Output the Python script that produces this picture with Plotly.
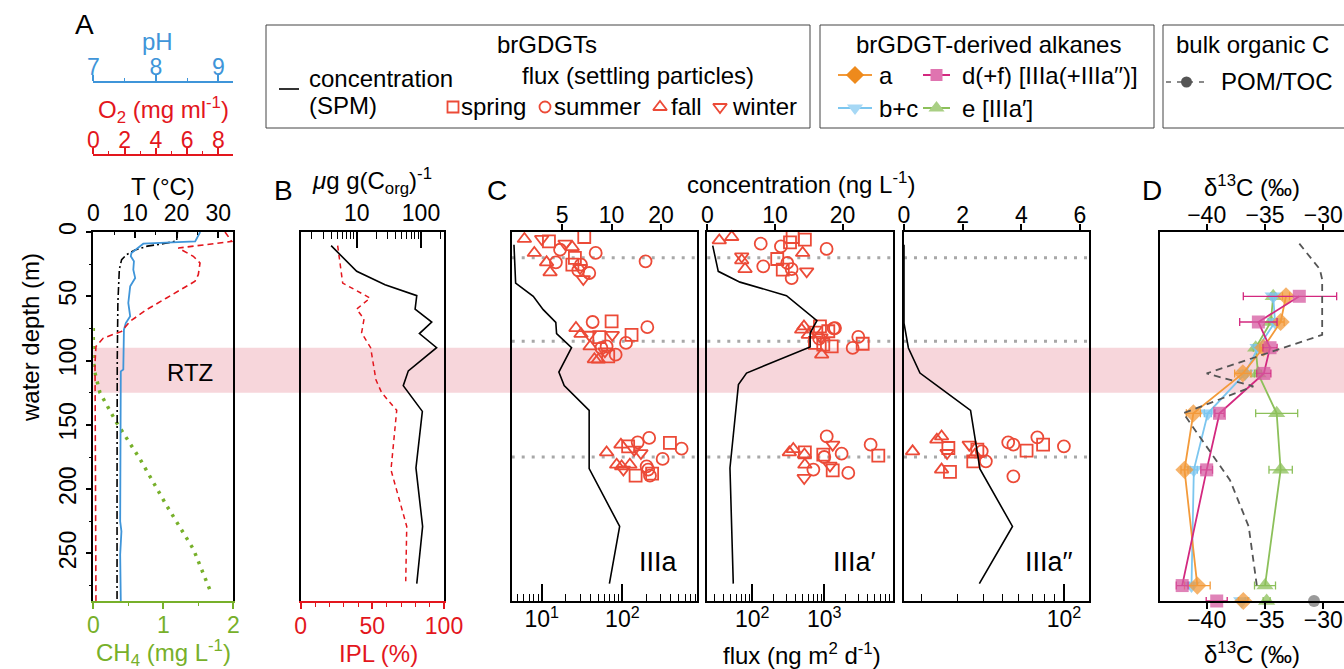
import plotly.graph_objects as go

W, H = 1344, 669
FONT = "Liberation Sans, Arial, Helvetica, sans-serif"
FS = 23      # tick labels
TS = 24      # titles / legend text

# ---------------- DATA ----------------
# Panel A: water-column profiles (depth in m)
t_depth = [0, 7, 9, 11, 14, 17.6, 21.5, 29, 55, 100, 200, 287]
t_value = [20.2, 20.0, 17.0, 13.0, 10.0, 8.0, 6.8, 6.25, 5.9, 5.75, 5.7, 5.7]
ph_depth = [0, 7.3, 9.1, 16.4, 18.9, 22.8, 29.3, 35.8, 42.3, 55.2, 65.6, 70.8, 76, 99.3, 107, 108.4, 225, 232.8, 250.9, 287]
ph_value = [8.71, 8.63, 7.80, 7.61, 7.60, 7.65, 7.64, 7.67, 7.59, 7.56, 7.59, 7.52, 7.49, 7.48, 7.48, 7.44, 7.43, 7.45, 7.43, 7.44]
o2_depth = [0, 7.3, 12.5, 18.9, 24.1, 33.2, 38.3, 42.3, 51.3, 60.4, 69.5, 77.3, 82.5, 89, 101.9, 287]
o2_value = [8.43, 8.86, 5.44, 6.40, 6.83, 6.72, 6.51, 5.97, 4.69, 3.41, 2.35, 1.81, 0.64, 0.17, 0.11, 0.17]
ch4_depth = [74.6, 99.3, 109.6, 125, 148, 176.6, 213, 246.7, 279]
ch4_value = [0, 0, 0.024, 0.095, 0.33, 0.667, 1.05, 1.43, 1.67]
rtz_top, rtz_bottom = 90, 125

# Panel B
b_conc_depth = [10.6, 30.6, 41, 49.5, 60, 70, 79, 90, 108, 119.5, 139.5, 183.5, 229, 273.5]
b_conc_value = [4.0, 10, 27.6, 86, 81, 147, 94.5, 175, 63.5, 53, 105, 83.5, 106, 86]
b_ipl_depth = [10.6, 39.7, 51.4, 60, 67.7, 78.5, 90, 115, 125, 138.7, 185, 229, 271.7]
b_ipl_value = [25.8, 29.3, 48.4, 39, 44.2, 42.5, 48.8, 52.5, 56.5, 67, 63, 74, 73.3]

# Panel C: SPM concentration profiles
c1_conc_depth = [9.9, 39.7, 50, 60.4, 70.3, 79, 90, 109, 119.5, 138.7, 184, 229, 273.5]
c1_conc_value = [2.54, 2.6, 3.33, 3.83, 4.57, 4.62, 5.7, 4.77, 5.14, 7.3, 7.3, 11.2, 9.7]
c2_conc_depth = [10.6, 30.6, 39, 49.5, 69, 78.6, 89.4, 109.7, 118.7, 183.5, 273.5]
c2_conc_value = [0.8, 1.62, 4.83, 11.7, 16.2, 15.2, 15.2, 5.8, 4.6, 3.35, 3.84]
c3_conc_depth = [9.9, 70.8, 90.2, 109.7, 121.3, 138.7, 184.3, 229, 273.5]
c3_conc_value = [0, 0, 0.15, 0.545, 1.23, 2.27, 2.59, 3.70, 2.57]
trap_depths = [20, 85, 175]

# Panel C: settling-particle fluxes (season, flux, plotted depth)
c1_season = ["fall", "winter", "spring", "fall", "winter", "summer", "fall", "spring", "summer", "summer",
             "fall", "summer", "fall", "spring", "spring", "summer", "summer", "summer", "winter", "winter",
             "fall", "summer", "spring", "summer", "fall", "winter", "spring", "winter", "spring", "summer",
             "fall", "summer", "summer", "fall", "spring", "winter", "summer", "fall",
             "fall", "fall", "spring", "summer", "summer", "spring", "summer", "winter", "winter", "fall",
             "fall", "winter", "fall", "summer", "summer", "summer", "spring", "summer", "spring"]
c1_flux = [6.1, 10, 12.3, 8.1, 19.5, 16.9, 23.9, 33.7, 46.7, 194,
           11.5, 15, 12.7, 25.8, 24, 30.7, 28.4, 38.9, 32.8, 29.9,
           26.6, 42.8, 73.6, 204, 30.7, 38.9, 51.8, 75, 130, 111,
           39.8, 55, 82.6, 50.3, 66.8, 60.8, 63.8, 45,
           63.8, 96, 118, 155, 215, 389, 543, 170, 140, 85,
           98, 103, 124, 316, 200, 209, 146, 220, 234]
c1_depth = [5.4, 5.4, 7.3, 16.3, 9.1, 13.8, 11.7, 3.9, 16.3, 22.8,
            23.6, 23.6, 31.4, 20.2, 25.4, 25.4, 29.8, 31.9, 36.6, 28,
            74.7, 70, 69.5, 74, 79.3, 79.9, 81.7, 80, 80, 86.3,
            89, 90.2, 95.4, 99.3, 96.7, 92.8, 89, 99,
            171.4, 165.4, 166.7, 163.6, 160.2, 164, 168.5, 172, 169.3, 181,
            182.3, 184.8, 181, 176.5, 182.3, 184.8, 189.5, 189.5, 188]

c2_season = ["fall", "fall", "summer", "summer", "spring", "spring", "spring", "fall", "summer", "winter",
             "fall", "fall", "summer", "spring", "spring", "summer", "summer", "summer", "winter",
             "fall", "fall", "spring", "summer", "spring", "winter", "spring", "summer", "spring", "summer",
             "spring", "fall", "spring", "summer", "fall", "winter", "summer",
             "fall", "fall", "spring", "fall", "summer", "winter", "summer", "spring", "summer", "spring",
             "fall", "summer", "winter", "winter", "spring", "summer", "summer"]
c2_flux = [34.8, 51.8, 131, 250, 363, 334, 537, 500, 1076, 71.3,
           79.3, 71.3, 142, 222, 265, 306, 352, 352, 569,
           522, 485, 870, 1409, 1137, 741, 968, 2965, 3412, 2478,
           1268, 920, 741, 850, 600, 900, 1350,
           327, 371, 537, 530, 1080, 1309, 1740, 968, 4400, 5623,
           537, 705, 526, 1200, 1309, 2154, 1000]
c2_depth = [6.5, 3.9, 9.1, 11.2, 3.9, 8.1, 6, 16.3, 13.2, 19,
            28.8, 22, 26.7, 21, 29.3, 24.1, 28.8, 35.8, 30.6,
            73.4, 76, 73.4, 74.7, 77.2, 76, 87.6, 81.6, 86.9, 90.2,
            89, 95.4, 86.3, 83, 80, 82, 75,
            171.4, 168.8, 171.4, 173, 159, 165.4, 172.4, 173.2, 165.4, 174,
            181, 184.8, 191.3, 181.7, 185.4, 187.4, 175]

c3_season = ["fall", "fall", "fall", "spring", "winter", "fall", "spring", "winter", "spring", "summer",
             "fall", "spring", "summer", "summer", "summer", "summer", "spring", "spring", "summer", "summer"]
c3_flux = [18.0, 23.7, 25, 27, 26.6, 25, 27.5, 34.2, 37.5, 39.4,
           36.5, 35.8, 41.3, 53.2, 56.4, 74, 65.5, 79, 100, 56.4]
c3_depth = [170.6, 161.5, 159, 168, 171.9, 184.8, 186.6, 165.4, 169.3, 170.6,
            173.2, 178.4, 178.4, 163.6, 165.4, 159.7, 170, 165.4, 166.7, 190]

# Panel D: d13C of brGDGT-derived alkanes (water column) + sediment
d_depth = [50, 70, 90, 110, 141, 185, 275]
sed_depth = 287
a_d13c = [-33.2, -33.66, -35.14, -36.9, -41.14, -41.9, -40.8]
a_err = [0.3, 0.3, 0.3, 0.7, 0.6, 0.3, 1.1]
a_sed, a_sed_err = -36.86, 0.4
bc_d13c = [-34.3, -34.14, -35.6, -36.7, -39.9, -41.1, -41.3]
bc_err = [0.2, 0.2, 0.2, 0.2, 0.3, 0.3, 0.2]
bc_sed, bc_sed_err = -37.0, 0.3
d_d13c = [-32.06, -35.57, -34.57, -35.1, -38.9, -40.0, -42.1]
d_err_plus = [3.2, 1.6, 0.6, 0.6, 0.4, 0.5, 0.5]
d_err_minus = [4.8, 1.6, 0.6, 0.6, 0.4, 0.5, 0.5]
d_sed, d_sed_err = -39.14, 0.9
e_d13c = [-34.3, -34.5, -35.8, -35.6, -34.0, -33.66, -35.0]
e_err = [0.2, 0.2, 0.2, 0.3, 1.8, 1.0, 0.9]
e_sed, e_sed_err = -34.86, 0.3
pom_depth = [9, 29, 37, 80, 110, 120, 141, 172, 193, 229, 275]
pom_d13c = [-32.06, -30.3, -30.1, -30.1, -40.0, -36.0, -42.0, -39.6, -38.0, -36.4, -35.7]
toc_sed = -30.8

season_symbol = {"spring": "square-open", "summer": "circle-open",
                 "fall": "triangle-up-open", "winter": "triangle-down-open"}

# ---------------- COLOURS ----------------
BLUE = "#3f95d9"
RED = "#e3161d"
GREEN = "#77b02a"
MRED = "#ec4a37"
PINK = "#f7d6db"
ORANGE = "#f39a3a"
LBLUE = "#7cc6ef"
MAGENTA = "#d3287f"
LGREEN = "#8cc05a"


def px(x):
    return x / W


def py(y):
    return 1 - y / H


YDOM = [py(601), py(232)]
YRANGE = [287, 0]

fig = go.Figure()


def line(x, y, xa, ya, color, width=1.6, dash="solid"):
    fig.add_trace(go.Scatter(x=x, y=y, xaxis=xa, yaxis=ya, mode="lines",
                             line=dict(color=color, width=width, dash=dash),
                             hoverinfo="skip", showlegend=False))


# Panel A
line(ch4_value, ch4_depth, "x", "y", GREEN, 3.5, "3px,6px")
line(t_value, t_depth, "x2", "y", "black", 1.6, "8px,3px,2px,3px")
line(ph_value, ph_depth, "x3", "y", BLUE, 1.8)
line(o2_value, o2_depth, "x4", "y", RED, 1.6, "6px,4px")

# Panel B
line(b_ipl_value, b_ipl_depth, "x5", "y2", RED, 1.5, "5px,4px")
line(b_conc_value, b_conc_depth, "x6", "y2", "black", 1.6)

# Panel C
for xb, xt, ya, cd, cv, s, f, d in [
    ("x7", "x8", "y3", c1_conc_depth, c1_conc_value, c1_season, c1_flux, c1_depth),
    ("x9", "x10", "y4", c2_conc_depth, c2_conc_value, c2_season, c2_flux, c2_depth),
    ("x11", "x12", "y5", c3_conc_depth, c3_conc_value, c3_season, c3_flux, c3_depth),
]:
    line(cv, cd, xt, ya, "black", 1.6)
    fig.add_trace(go.Scatter(x=f, y=d, xaxis=xb, yaxis=ya, mode="markers",
                             marker=dict(symbol=[season_symbol[k] for k in s], size=12,
                                         color=MRED, line=dict(color=MRED, width=1.8)),
                             hoverinfo="skip", showlegend=False, cliponaxis=False))

# Panel D (POM line drawn on the top d13C axis, which has the same scale)
fig.add_trace(go.Scatter(x=pom_d13c, y=pom_depth, xaxis="x14", yaxis="y6", mode="lines",
                         line=dict(color="#555555", width=1.8, dash="7px,5px"),
                         hoverinfo="skip", showlegend=False))
fig.add_trace(go.Scatter(x=[toc_sed], y=[sed_depth], xaxis="x13", yaxis="y6", mode="markers",
                         marker=dict(color="#9a9a9a", size=12), cliponaxis=False,
                         hoverinfo="skip", showlegend=False))

series = [
    (e_d13c, e_err, e_err, e_sed, e_sed_err, LGREEN, "rgba(140,192,90,0.75)", "triangle-up", 15),
    (bc_d13c, bc_err, bc_err, bc_sed, bc_sed_err, LBLUE, "rgba(124,198,239,0.75)", "triangle-down", 15),
    (a_d13c, a_err, a_err, a_sed, a_sed_err, ORANGE, "rgba(243,154,58,0.75)", "diamond", 14),
    (d_d13c, d_err_plus, d_err_minus, d_sed, d_sed_err, MAGENTA, "rgba(214,90,160,0.75)", "square", 13),
]
for vals, ep, em, sv, se, lc, mc, sym, sz in series:
    fig.add_trace(go.Scatter(x=vals, y=d_depth, xaxis="x13", yaxis="y6", mode="lines+markers",
                             line=dict(color=lc, width=1.8),
                             marker=dict(symbol=sym, size=sz, color=mc, line=dict(width=0)),
                             error_x=dict(type="data", array=ep, arrayminus=em, color=lc,
                                          thickness=1.3, width=4),
                             hoverinfo="skip", showlegend=False, cliponaxis=False))
    fig.add_trace(go.Scatter(x=[sv], y=[sed_depth], xaxis="x13", yaxis="y6", mode="markers",
                             marker=dict(symbol=sym, size=sz, color=mc, line=dict(width=0)),
                             error_x=dict(type="data", array=[se], color=lc, thickness=1.3, width=4),
                             hoverinfo="skip", showlegend=False, cliponaxis=False))

# Legend glyphs on a hidden pixel-space axis
for xx, yy, sym, sz in [(453, 107, "square-open", 11), (545, 107, "circle-open", 11),
                        (660, 107, "triangle-up-open", 12), (720, 107, "triangle-down-open", 12)]:
    fig.add_trace(go.Scatter(x=[xx], y=[yy], xaxis="x15", yaxis="y7", mode="markers",
                             marker=dict(symbol=sym, size=sz, color=MRED, line=dict(color=MRED, width=1.8)),
                             hoverinfo="skip", showlegend=False, cliponaxis=False))
for x0, x1, yy, lc, mc, sym, sz, dash in [
    (838, 872, 75, ORANGE, "#ee8a1c", "diamond", 14, "solid"),
    (923, 950, 75, MAGENTA, "#df74b0", "square", 12, "solid"),
    (838, 872, 108, LBLUE, "#a6d8f5", "triangle-down", 14, "solid"),
    (923, 950, 108, LGREEN, "#a9cf84", "triangle-up", 14, "solid"),
    (1166, 1207, 82, "#8a8a8a", "#555555", "circle", 11, "5px,6px"),
]:
    fig.add_trace(go.Scatter(x=[x0, x1], y=[yy, yy], xaxis="x15", yaxis="y7", mode="lines",
                             line=dict(color=lc, width=2, dash=dash),
                             hoverinfo="skip", showlegend=False, cliponaxis=False))
    fig.add_trace(go.Scatter(x=[(x0 + x1) / 2], y=[yy], xaxis="x15", yaxis="y7", mode="markers",
                             marker=dict(symbol=sym, size=sz, color=mc, line=dict(width=0)),
                             hoverinfo="skip", showlegend=False, cliponaxis=False))


# ---------------- AXES ----------------
def axis(color="black", **kw):
    base = dict(showgrid=False, zeroline=False, showline=True, linewidth=1.5, linecolor=color,
                ticks="outside", ticklen=6, tickwidth=1.5, tickcolor=color, automargin=False,
                tickfont=dict(size=FS, color=color, family=FONT), fixedrange=True)
    base.update(kw)
    return base


def minor(vals, color="black", ticks="outside", ln=3):
    return dict(tickvals=vals, ticks=ticks, ticklen=ln, tickwidth=1.2, tickcolor=color, showgrid=False)


def logminor(decades):
    out = []
    for d in decades:
        out += [k * d for k in range(2, 10)]
    return out


A_DOM = [px(93.3), px(233.3)]
B_DOM = [px(300.7), px(444)]
C1_DOM = [px(511.7), px(696.7)]
C2_DOM = [px(707.3), px(892.7)]
C3_DOM = [px(904), px(1089.3)]
D_DOM = [px(1160), 1.0]
D_RANGE = [-44.0, -28.23]

ydepth_hidden = dict(domain=YDOM, range=YRANGE, showgrid=False, zeroline=False, showline=True,
                     linewidth=1.5, linecolor="black", mirror=True, ticks="", showticklabels=False,
                     fixedrange=True, automargin=False)

layout_axes = dict(
    # Panel A
    xaxis=axis(GREEN, domain=A_DOM, anchor="y", range=[0, 2], tickvals=[0, 1, 2],
               minor=minor([0.5, 1.5], GREEN), ticklabelstandoff=-3),
    xaxis2=axis("black", overlaying="x", anchor="y", side="top", range=[0, 33.6],
                tickvals=[0, 10, 20, 30], ticks="inside", minor=minor([5, 15, 25], ticks="inside")),
    xaxis3=axis(BLUE, overlaying="x", anchor="free", position=py(81.7), side="top",
                range=[7, 9.24], tickvals=[7, 8, 9], minor=minor([7.5, 8.5], BLUE),
                ticklabelstandoff=-9),
    xaxis4=axis(RED, overlaying="x", anchor="free", position=py(155), side="top",
                range=[0, 8.96], tickvals=[0, 2, 4, 6, 8], minor=minor([1, 3, 5, 7], RED),
                ticklabelstandoff=-9),
    yaxis=axis("black", domain=YDOM, anchor="x", range=YRANGE, mirror=True,
               tickvals=[0, 50, 100, 150, 200, 250], tickangle=-90,
               minor=minor([25, 75, 125, 175, 225, 275])),
    # Panel B
    xaxis5=axis(RED, domain=B_DOM, anchor="y2", range=[0, 100], tickvals=[0, 50, 100],
                minor=minor([10, 20, 30, 40, 60, 70, 80, 90], RED, ln=4), ticklabelstandoff=-2),
    xaxis6=axis("black", overlaying="x5", anchor="y2", side="top", type="log",
                range=[0.129, 2.358], tickvals=[10, 100], ticks="inside", ticklen=16,
                minor=minor(logminor([1, 10, 100]), ticks="inside", ln=7)),
    yaxis2=dict(ydepth_hidden, anchor="x5"),
    # Panel C
    xaxis7=axis("black", domain=C1_DOM, anchor="y3", type="log", range=[0.628, 2.922],
                tickvals=[10, 100], ticktext=["10<sup>1</sup>", "10<sup>2</sup>"],
                ticks="inside", ticklen=17, minor=minor(logminor([1, 10, 100]), ticks="inside", ln=7),
                ticklabelstandoff=-3),
    xaxis8=axis("black", overlaying="x7", anchor="y3", side="top", type="log",
                range=[0.391, 1.519], tickvals=[5, 10, 20], ticklabelstandoff=-8),
    yaxis3=dict(ydepth_hidden, anchor="x7"),
    xaxis9=axis("black", domain=C2_DOM, anchor="y4", type="log", range=[1.375, 3.95],
                tickvals=[100, 1000], ticktext=["10<sup>2</sup>", "10<sup>3</sup>"],
                ticks="inside", ticklen=17, minor=minor(logminor([10, 100, 1000]), ticks="inside", ln=7),
                ticklabelstandoff=-3),
    xaxis10=axis("black", overlaying="x9", anchor="y4", side="top", range=[0, 27.4],
                 tickvals=[0, 10, 20], ticklabelstandoff=-8),
    yaxis4=dict(ydepth_hidden, anchor="x9"),
    xaxis11=axis("black", domain=C3_DOM, anchor="y5", type="log", range=[1.213, 2.125],
                 tickvals=[100], ticktext=["10<sup>2</sup>"],
                 ticks="inside", ticklen=17, minor=minor(logminor([10]), ticks="inside", ln=7),
                 ticklabelstandoff=-3),
    xaxis12=axis("black", overlaying="x11", anchor="y5", side="top", range=[0, 6.32],
                 tickvals=[0, 2, 4, 6], ticklabelstandoff=-8),
    yaxis5=dict(ydepth_hidden, anchor="x11"),
    # Panel D
    xaxis13=axis("black", domain=D_DOM, anchor="y6", range=D_RANGE, tickvals=[-40, -35, -30],
                 ticklabelstandoff=-8),
    xaxis14=axis("black", overlaying="x13", anchor="y6", side="top", range=D_RANGE,
                 tickvals=[-40, -35, -30], ticklabelstandoff=-8),
    yaxis6=dict(ydepth_hidden, anchor="x13", mirror=False),
    # pixel overlay for legend glyphs
    xaxis15=dict(domain=[0, 1], range=[0, W], visible=False, anchor="y7", fixedrange=True),
    yaxis7=dict(domain=[0, 1], range=[H, 0], visible=False, anchor="x15", fixedrange=True),
)

# ---------------- SHAPES ----------------
shapes = [
    dict(type="rect", xref="paper", yref="y", x0=px(93.3), x1=1.0, y0=rtz_top, y1=rtz_bottom,
         fillcolor=PINK, line=dict(width=0), layer="below"),
]
for xa, ya in [("x7", "y3"), ("x9", "y4"), ("x11", "y5")]:
    for dd in trap_depths:
        shapes.append(dict(type="line", xref=f"{xa} domain", yref=ya, x0=0, x1=1, y0=dd, y1=dd,
                           line=dict(color="#a8a8a8", width=3, dash="3px,7px"), layer="below"))
# legend boxes
for x0, x1 in [(266, 810), (820, 1154), (1163, 1400)]:
    shapes.append(dict(type="rect", xref="paper", yref="paper", x0=px(x0), x1=px(x1),
                       y0=py(128), y1=py(25), line=dict(color="#444444", width=1)))
shapes.append(dict(type="line", xref="paper", yref="paper", x0=px(279), x1=px(299),
                   y0=py(89), y1=py(89), line=dict(color="black", width=1.6)))

# ---------------- ANNOTATIONS ----------------
ann = []


def text(x, y, s, size=TS, color="black", xanchor="center", angle=0):
    ann.append(dict(x=px(x), y=py(y), xref="paper", yref="paper", text=s, showarrow=False,
                    xanchor=xanchor, yanchor="middle", textangle=angle,
                    font=dict(size=size, color=color, family=FONT)))


text(84, 25, "A", 28)
text(283, 190, "B", 28)
text(497, 190, "C", 28)
text(1152, 190, "D", 28)
text(157, 42, "pH", color=BLUE)
text(163, 110, "O<sub>2</sub> (mg ml<sup>-1</sup>)", color=RED)
text(163, 186, "T (°C)")
text(163, 653, "CH<sub>4</sub> (mg L<sup>-1</sup>)", color=GREEN)
text(30, 338, "water depth (m)", angle=-90)
text(190, 372, "RTZ")
text(372, 181, "<i>μ</i>g g(C<sub>org</sub>)<sup>-1</sup>")
text(378, 653, "IPL (%)", color=RED)
text(801, 183, "concentration (ng L<sup>-1</sup>)")
text(802, 654, "flux (ng m<sup>2</sup> d<sup>-1</sup>)")
text(1252, 186, "δ<sup>13</sup>C (‰)")
text(1252, 653, "δ<sup>13</sup>C (‰)")
text(680, 562, "IIIa", 27, xanchor="right")
text(878, 562, "IIIa′", 27, xanchor="right")
text(1075, 562, "IIIa′′", 27, xanchor="right")
# legend texts
text(547, 45, "brGDGTs")
text(307, 78, "concentration", xanchor="left")
text(307, 106, "(SPM)", xanchor="left")
text(638, 76, "flux (settling particles)")
text(459, 107, "spring", xanchor="left")
text(552, 107, "summer", xanchor="left")
text(669, 107, "fall", xanchor="left")
text(730, 107, "winter", xanchor="left")
text(988, 44, "brGDGT-derived alkanes")
text(877, 75, "a", xanchor="left")
text(960, 75, "d(+f) [IIIa(+IIIa′′)]", xanchor="left")
text(877, 108, "b+c", xanchor="left")
text(960, 108, "e [IIIa′]", xanchor="left")
text(1252, 44, "bulk organic C")
text(1219, 82, "POM/TOC", xanchor="left")

fig.update_layout(
    width=W, height=H, margin=dict(l=0, r=0, t=0, b=0, pad=0, autoexpand=False),
    paper_bgcolor="white", plot_bgcolor="rgba(0,0,0,0)",
    showlegend=False, shapes=shapes, annotations=ann,
    font=dict(family=FONT, size=FS, color="black"),
    **layout_axes,
)

fig.write_html("out.html", config={"displayModeBar": False},
               post_script="document.body.style.margin='0px';document.body.style.overflow='hidden';")
